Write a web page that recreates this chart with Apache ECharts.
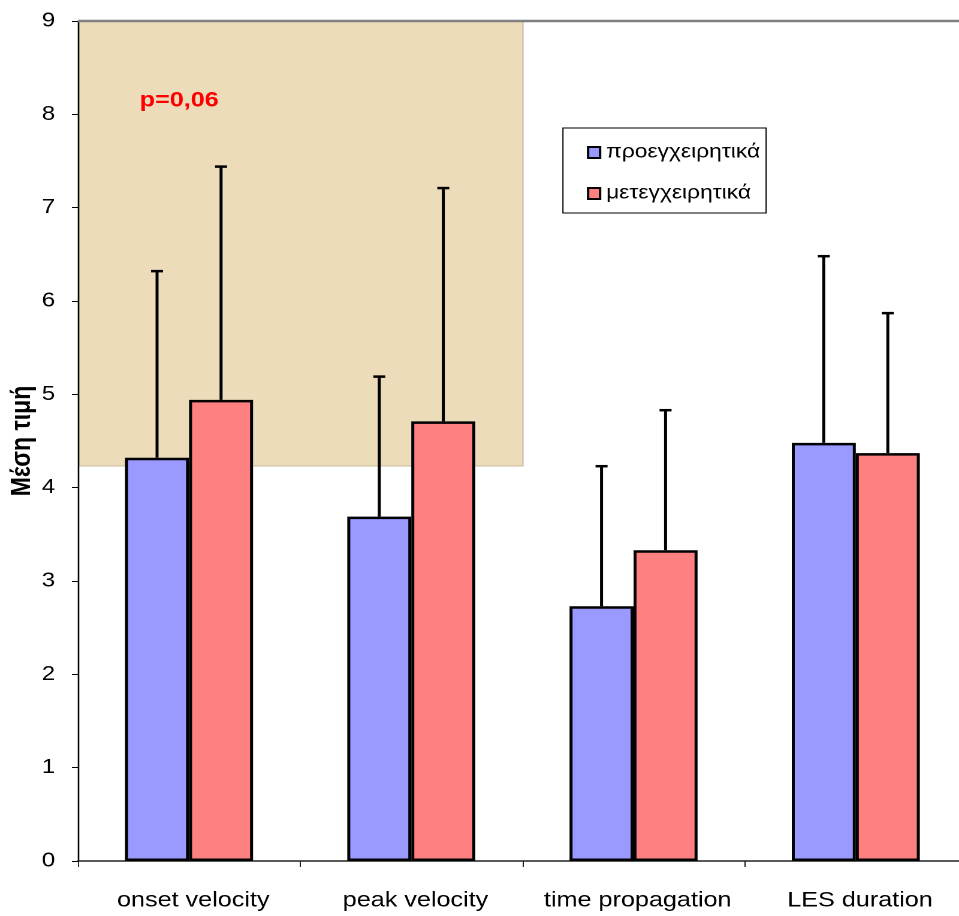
<!DOCTYPE html>
<html>
<head>
<meta charset="utf-8">
<script src="https://cdn.jsdelivr.net/npm/echarts@6/dist/echarts.min.js"></script>
<style>
html,body{margin:0;padding:0;background:#fff;overflow:hidden;width:959px;height:916px;}
#chart{width:800px;height:916px;transform:scaleX(1.19875);transform-origin:0 0;}
</style>
</head>
<body>
<div id="chart"></div>
<script>
var categories = ['onset velocity', 'peak velocity', 'time propagation', 'LES duration'];
var preValues = [4.32, 3.69, 2.73, 4.48];
var preSD = [2.0, 1.5, 1.5, 2.0];
var postValues = [4.94, 4.71, 3.33, 4.37];
var postSD = [2.5, 2.5, 1.5, 1.5];
var seriesNames = ['προεγχειρητικά', 'μετεγχειρητικά'];
var yTicks = [0, 1, 2, 3, 4, 5, 6, 7, 8, 9];
var annotation = 'p=0,06';

var FONT = 'Liberation Sans, Arial, sans-serif';
var BAR_W = 53.4;
var GRID_LEFT = 65;
var GRID_W = 741.6;

function errData(vals, sds) {
  return vals.map(function (v, i) { return [i, v, v + sds[i]]; });
}

function errRender(offset) {
  return function (params, api) {
    var base = api.coord([api.value(0), api.value(1)]);
    var top = api.coord([api.value(0), api.value(2)]);
    var x = base[0] + offset;
    return {
      type: 'group',
      children: [
        { type: 'line', shape: { x1: x, y1: base[1], x2: x, y2: top[1] },
          style: { stroke: '#000', lineWidth: 2.5 } },
        { type: 'line', shape: { x1: x - 5, y1: top[1], x2: x + 5, y2: top[1] },
          style: { stroke: '#000', lineWidth: 2.5 } }
      ]
    };
  };
}

var chart = echarts.init(document.getElementById('chart'), null, { renderer: 'canvas', devicePixelRatio: 2 });

var option = {
  backgroundColor: '#fff',
  animation: false,
  textStyle: { fontFamily: FONT },
  grid: { left: GRID_LEFT, top: 21, width: GRID_W, bottom: 55, containLabel: false, outerBoundsMode: 'none' },
  legend: {
    data: seriesNames,
    orient: 'vertical',
    left: 469.6,
    top: 128,
    padding: [15, 5, 10, 20],
    itemGap: 22,
    itemWidth: 10,
    itemHeight: 11,
    icon: 'rect',
    borderColor: '#000',
    borderWidth: 1,
    backgroundColor: '#fff',
    textStyle: { fontFamily: FONT, fontSize: 19, color: '#000' },
    itemStyle: { borderColor: '#000', borderWidth: 2 }
  },
  xAxis: {
    type: 'category',
    data: categories,
    boundaryGap: true,
    axisLine: { show: true, lineStyle: { color: '#222', width: 1.5 } },
    axisTick: { show: true, length: 6, lineStyle: { color: '#222', width: 1 } },
    axisLabel: { fontFamily: FONT, fontSize: 21, color: '#000', margin: 29, interval: 0, padding: [0, 0, 0, 7] },
    splitLine: { show: false }
  },
  yAxis: {
    type: 'value',
    min: 0,
    max: 9,
    interval: 1,
    name: 'Μέση τιμή',
    nameLocation: 'middle',
    nameGap: 35,
    nameMoveOverlap: false,
    nameRotate: 90,
    nameTextStyle: { fontFamily: FONT, fontSize: 23, fontWeight: 'bold', color: '#000' },
    axisLine: { show: true, lineStyle: { color: '#000', width: 1.3 } },
    axisTick: { show: true, inside: false, length: 5, lineStyle: { color: '#000', width: 1 } },
    axisLabel: {
      fontFamily: FONT, fontSize: 20, color: '#000', margin: 19,
      formatter: function (v) { return yTicks.indexOf(v) >= 0 ? String(v) : ''; }
    },
    splitLine: { show: false }
  },
  graphic: [
    {
      type: 'rect', z: 0, silent: true,
      shape: { x: 65.8, y: 21, width: 370.5, height: 445 },
      style: { fill: '#ecdcba', stroke: '#cbbb9b', lineWidth: 1 }
    },
    {
      type: 'line', z: 5, silent: true,
      shape: { x1: 65, y1: 21, x2: 800, y2: 21 },
      style: { stroke: '#808080', lineWidth: 2.5 }
    },
    {
      type: 'text', z: 5, left: 116.5, top: 90,
      style: { text: annotation, fill: '#ff0000', font: 'bold 21px ' + FONT }
    }
  ],
  series: [
    {
      name: seriesNames[0], type: 'bar', data: preValues,
      barWidth: BAR_W, barGap: '0%', z: 3,
      itemStyle: { color: '#9999ff', borderColor: '#000', borderWidth: 2.5 }
    },
    {
      name: seriesNames[1], type: 'bar', data: postValues,
      barWidth: BAR_W, barGap: '0%', z: 3,
      itemStyle: { color: '#ff8080', borderColor: '#000', borderWidth: 2.5 }
    },
    {
      type: 'custom', name: 'err-pre', data: errData(preValues, preSD),
      renderItem: errRender(-BAR_W / 2), z: 4, silent: true,
      encode: { x: 0, y: [1, 2] }
    },
    {
      type: 'custom', name: 'err-post', data: errData(postValues, postSD),
      renderItem: errRender(BAR_W / 2), z: 4, silent: true,
      encode: { x: 0, y: [1, 2] }
    }
  ]
};

chart.setOption(option);
</script>
</body>
</html>
